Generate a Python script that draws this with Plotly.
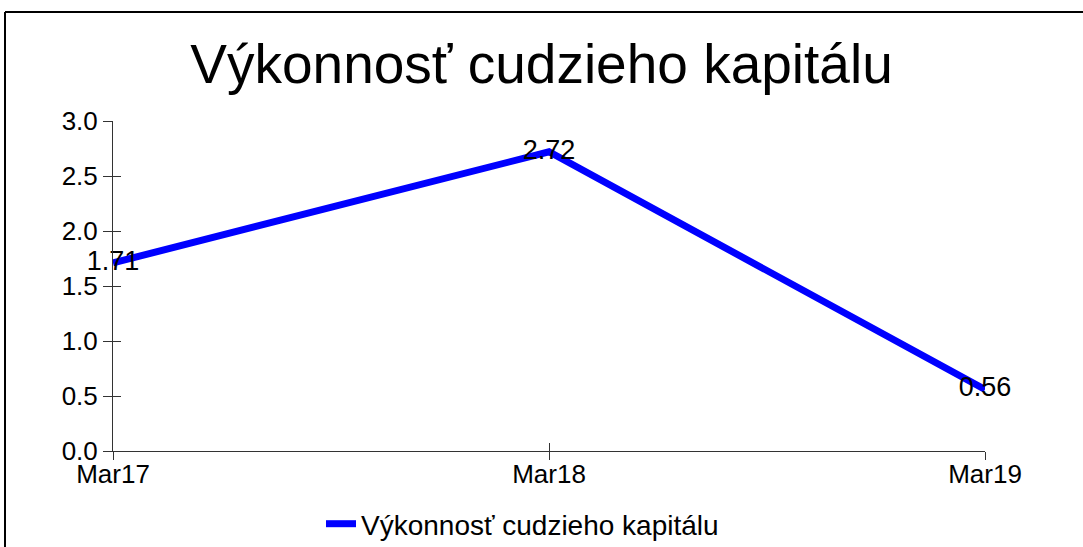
import plotly.graph_objects as go

# Chart data
periods = ["Mar17", "Mar18", "Mar19"]
values = [1.71, 2.72, 0.56]
series_name = "Výkonnosť cudzieho kapitálu"
y_ticks = [0.0, 0.5, 1.0, 1.5, 2.0, 2.5, 3.0]
y_tick_text = ["0.0", "0.5", "1.0", "1.5", "2.0", "2.5", "3.0"]

W, H = 1083, 547
L, R, T, B = 113, 98, 121, 96
FONT = "Liberation Sans, Arial, sans-serif"

fig = go.Figure()
fig.add_trace(go.Scatter(
    x=periods, y=values, name=series_name,
    mode="lines+text",
    text=[f"{v:.2f}" for v in values],
    textposition="middle center",
    textfont=dict(family=FONT, size=27, color="black"),
    line=dict(color="#0000ff", width=7),
    cliponaxis=False,
    hoverinfo="skip",
))

axis_line = "#333333"

fig.update_layout(
    width=W, height=H,
    margin=dict(l=L, r=R, t=T, b=B, autoexpand=False),
    paper_bgcolor="white", plot_bgcolor="white",
    font=dict(family=FONT, color="black"),
    title=dict(text=series_name, x=0.5, xanchor="center", xref="container",
               y=1 - 64 / H, yanchor="middle", yref="container",
               font=dict(size=55, family=FONT, color="black")),
    showlegend=True,
    legend=dict(orientation="h", x=(321 - L) / (W - L - R), xanchor="left",
                y=(451 - 524) / (H - T - B), yanchor="middle",
                font=dict(size=28, family=FONT, color="black"),
                bgcolor="rgba(0,0,0,0)"),
    # Category labels sit close under the axis; the inner half of each tick is drawn here
    xaxis=dict(type="category", range=[0, 2], showgrid=False, zeroline=False,
               showline=True, linecolor=axis_line, linewidth=1,
               ticks="inside", ticklen=8, tickcolor=axis_line,
               tickfont=dict(size=26, family=FONT, color="black")),
    yaxis=dict(range=[0, 3], tickvals=y_ticks, ticktext=y_tick_text,
               showgrid=False, zeroline=False,
               showline=True, linecolor=axis_line, linewidth=1,
               ticks="outside", ticklen=9, tickcolor=axis_line,
               tickfont=dict(size=26, family=FONT, color="black")),
    # Overlay axes add the other half of each tick mark
    xaxis2=dict(overlaying="x", range=[0, 2], tickvals=[0, 1, 2],
                showticklabels=False, showgrid=False, zeroline=False,
                showline=False, ticks="outside", ticklen=8, tickcolor=axis_line,
                side="bottom"),
    yaxis2=dict(overlaying="y", range=[0, 3], tickvals=y_ticks,
                showticklabels=False, showgrid=False, zeroline=False,
                showline=False, ticks="inside", ticklen=8, tickcolor=axis_line,
                side="left"),
)

# Invisible trace so the overlay axes are drawn
fig.add_trace(go.Scatter(x=[0], y=[0], xaxis="x2", yaxis="y2",
                         mode="markers", marker=dict(opacity=0),
                         showlegend=False, hoverinfo="skip"))

# Page frame: top and left edges only (right and bottom run off the page)
pw, ph = W - L - R, H - T - B
fx0 = (5 - L) / pw
fx1 = (W + 40 - L) / pw
fy_top = (H - B - 12) / ph
fy_bot = (H - B - (H + 40)) / ph
fig.add_shape(type="line", xref="paper", yref="paper",
              x0=fx0, x1=fx1, y0=fy_top, y1=fy_top,
              line=dict(color="black", width=2), layer="above")
fig.add_shape(type="line", xref="paper", yref="paper",
              x0=fx0, x1=fx0, y0=fy_bot, y1=fy_top,
              line=dict(color="black", width=2), layer="above")

fig.write_html("out.html")
